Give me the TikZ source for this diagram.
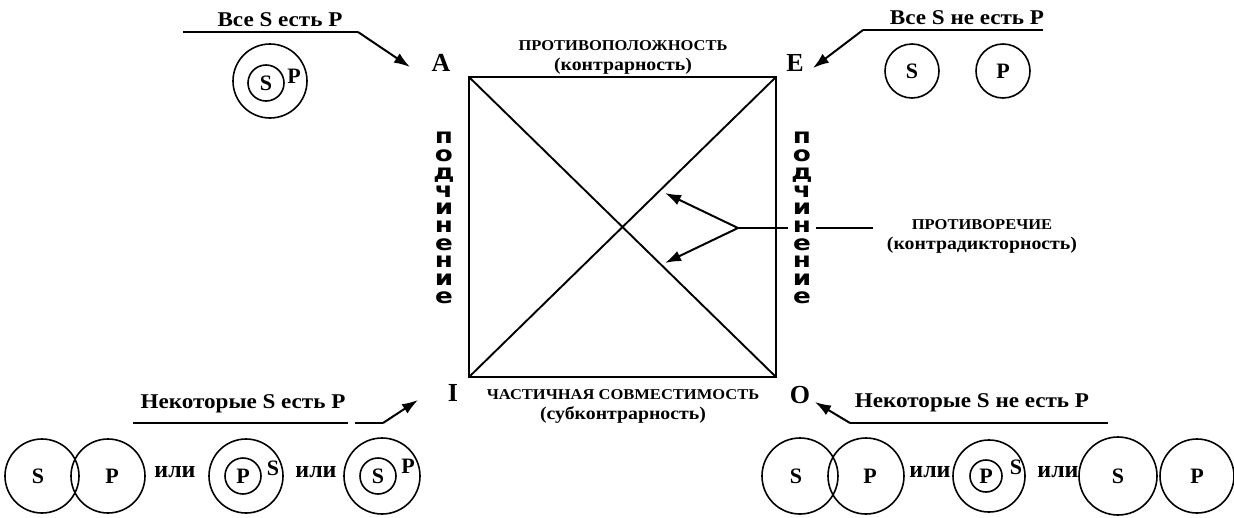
\documentclass[tikz,border=0pt]{standalone}
\usepackage{fontspec}
\setmainfont{Liberation Serif}
\newfontfamily\wideserif[FakeStretch=1.1]{Liberation Serif}
\newfontfamily\headserif[FakeStretch=1.1]{Liberation Serif}
\newfontfamily\vsans[FakeStretch=1.25]{DejaVu Sans}
\usetikzlibrary{arrows.meta}
\newcommand{\lowline}[1]{{\fontsize{18}{20}\selectfont #1}}
\begin{document}
\begin{tikzpicture}[x=1pt,y=-1pt,
  ln/.style={line width=1.4pt},
  sq/.style={line width=1.9pt},
  circ/.style={circle,draw,line width=1.6pt,inner sep=0pt},
  arr/.style={line width=2pt,-{Latex[length=16pt,width=11pt]}},
  head/.style={font=\headserif\bfseries\fontsize{21}{24}\selectfont,inner sep=0pt},
  corner/.style={font=\bfseries\fontsize{26}{30}\selectfont,inner sep=0pt},
  rel/.style={font=\wideserif\bfseries\fontsize{15}{20}\selectfont,align=center,inner sep=0pt},
  lbl/.style={font=\bfseries\fontsize{22}{24}\selectfont,inner sep=0pt},
  ili/.style={font=\bfseries\fontsize{24}{26}\selectfont,inner sep=0pt},
  vert/.style={font=\vsans\bfseries\fontsize{21}{17.7}\selectfont,align=center,inner sep=3pt}
]
\useasboundingbox (0,0) rectangle (1234,517);

% square
\coordinate (cA) at (469,77);
\coordinate (cE) at (776,77);
\coordinate (cI) at (469,377);
\coordinate (cO) at (776,377);
\draw[sq] (cA) rectangle (cO);
\draw[sq] (cA) -- (cO);
\draw[sq] (cI) -- (cE);

% corner letters
\node[corner] (A) at (441,63) {A};
\node[corner] (E) at (795,63) {E};
\node[corner] (I) at (453,393) {I};
\node[corner] (O) at (800,395) {O};

% relations
\node[rel] (contr) at (623,57) {ПРОТИВОПОЛОЖНОСТЬ\\\lowline{(контрарность)}};
\node[rel] (subc) at (623,406) {ЧАСТИЧНАЯ СОВМЕСТИМОСТЬ\\\lowline{(субконтрарность)}};
\node[rel] (contra) at (982,236) {ПРОТИВОРЕЧИЕ\\\lowline{(контрадикторность)}};

% contradiction arrows
\coordinate (apex) at (738,228);
\coordinate (t1) at (665,193);
\coordinate (t2) at (665,263);
\coordinate (cl) at (873,228);
\draw[ln] (apex) -- (cl);
\draw[arr] (apex) -- (t1);
\draw[arr] (apex) -- (t2);

% subordination
\node[vert] (subL) at (444,218) {п\\о\\д\\ч\\и\\н\\е\\н\\и\\е};
\node[vert,fill=white] (subR) at (802,218) {п\\о\\д\\ч\\и\\н\\е\\н\\и\\е};

% A: all S are P
\node[head] (hA) at (280,20) {Все S есть P};
\coordinate (ulA1) at (183,32);
\coordinate (ulA2) at (358,32);
\coordinate (tipA) at (410,67);
\draw[ln] (ulA1) -- (ulA2);
\draw[arr] (ulA2) -- (tipA);
\node[circ,minimum size=74pt] (aP) at (270,81) {};
\node[circ,minimum size=36pt,lbl] (aS) at (266,83) {S};
\node[lbl] (aPl) at (294,76) {P};

% E: no S is P
\node[head] (hE) at (967,18) {Все S не есть P};
\coordinate (ulE1) at (1043,30);
\coordinate (ulE2) at (863,30);
\coordinate (tipE) at (813,68);
\draw[ln] (ulE1) -- (ulE2);
\draw[arr] (ulE2) -- (tipE);
\node[circ,minimum size=54pt,lbl] (eS) at (912,71) {S};
\node[circ,minimum size=54pt,lbl] (eP) at (1003,71) {P};

% I: some S are P
\node[head] (hI) at (243,404) {Некоторые S есть P};
\coordinate (ulI1) at (133,423);
\coordinate (ulI2) at (348,423);
\coordinate (ulI3) at (355,423);
\coordinate (ulI4) at (383,423);
\coordinate (tipI) at (418,400);
\draw[ln] (ulI1) -- (ulI2);
\draw[ln] (ulI3) -- (ulI4);
\draw[arr] (ulI4) -- (tipI);
\node[circ,minimum size=74pt] (i1S) at (42,476) {};
\node[circ,minimum size=74pt] (i1P) at (108,476) {};
\node[lbl] (i1Sl) at (38,476) {S};
\node[lbl] (i1Pl) at (112,476) {P};
\node[ili] (iili1) at (175,472) {или};
\node[circ,minimum size=74pt] (i2S) at (246,476) {};
\node[circ,minimum size=36pt,lbl] (i2P) at (243,476) {P};
\node[lbl] (i2Sl) at (273,468) {S};
\node[ili] (iili2) at (316,472) {или};
\node[circ,minimum size=76pt] (i3P) at (382,476) {};
\node[circ,minimum size=36pt,lbl] (i3S) at (378,476) {S};
\node[lbl] (i3Pl) at (408,466) {P};

% O: some S are not P
\node[head] (hO) at (972,403) {Некоторые S не есть P};
\coordinate (ulO1) at (1108,423);
\coordinate (ulO2) at (850,423);
\coordinate (tipO) at (815,402);
\draw[ln] (ulO1) -- (ulO2);
\draw[arr] (ulO2) -- (tipO);
\node[circ,minimum size=76pt] (o1S) at (800,476) {};
\node[circ,minimum size=76pt] (o1P) at (866,476) {};
\node[lbl] (o1Sl) at (796,476) {S};
\node[lbl] (o1Pl) at (870,476) {P};
\node[ili] (oili1) at (930,472) {или};
\node[circ,minimum size=72pt] (o2S) at (989,476) {};
\node[circ,minimum size=32pt,lbl] (o2P) at (986,476) {P};
\node[lbl] (o2Sl) at (1016,467) {S};
\node[ili] (oili2) at (1058,472) {или};
\node[circ,minimum size=78pt,lbl] (o3S) at (1118,476) {S};
\node[circ,minimum size=74pt,lbl] (o3P) at (1197,476) {P};
\end{tikzpicture}
\end{document}
